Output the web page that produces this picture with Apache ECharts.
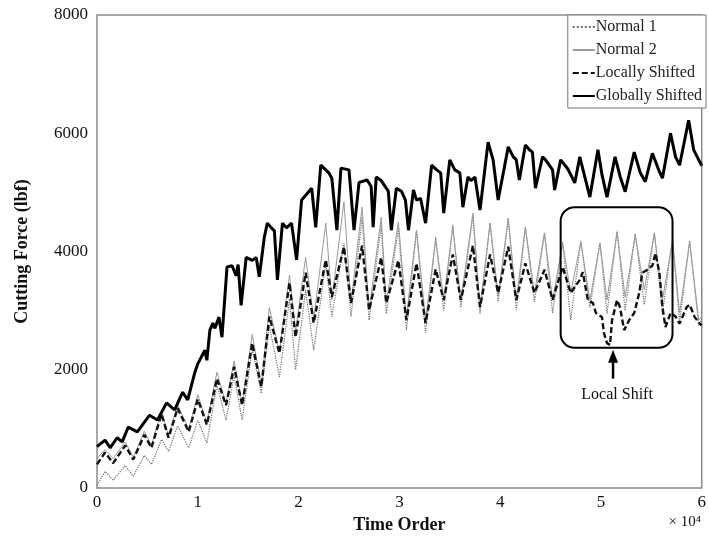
<!DOCTYPE html>
<html>
<head>
<meta charset="utf-8">
<script src="https://cdn.jsdelivr.net/npm/echarts@6/dist/echarts.min.js"></script>
<style>
  html, body { margin: 0; padding: 0; background: #fff; }
  #chart { width: 709px; height: 542px; }
</style>
</head>
<body>
<div id="chart"></div>
<script>
// time order (x 10^4) of the turning points shared by the two normal runs
var tLow = [0, 0.08, 0.16, 0.28, 0.36, 0.47, 0.54, 0.64, 0.71, 0.80,
  0.91, 1.00, 1.09, 1.19, 1.28, 1.36, 1.44, 1.54, 1.63, 1.71,
  1.81, 1.91, 1.97, 2.07, 2.15, 2.27, 2.33, 2.45, 2.52, 2.63,
  2.70, 2.82, 2.87, 2.99, 3.07, 3.17, 3.26, 3.36, 3.44, 3.53,
  3.61, 3.73, 3.80, 3.90, 3.98, 4.08, 4.16, 4.25, 4.34, 4.44,
  4.52, 4.62, 4.70, 4.80, 4.89, 4.99, 5.06, 5.16, 5.24, 5.34,
  5.43, 5.53, 5.61, 5.71, 5.78, 5.88, 5.97, 6.00];

var normal1 = [50, 280, 130, 380, 200, 550, 400, 820, 620, 1050,
  680, 1150, 760, 1750, 1150, 1900, 1150, 2350, 1600, 2750,
  1880, 3200, 2000, 3350, 2330, 3800, 2900, 4140, 2900, 4580,
  2840, 4450, 2950, 4400, 2670, 4360, 2620, 4240, 3000, 4450,
  3050, 4620, 2950, 4480, 3150, 4560, 3010, 4410, 3150, 4310,
  2960, 4160, 2840, 4180, 3050, 4150, 2950, 4350, 3000, 4300,
  3100, 4320, 2950, 4200, 2800, 4180, 2750, 2850];

var normal2 = [500, 650, 500, 780, 520, 960, 720, 1300, 880, 1400,
  1000, 1580, 1100, 1960, 1420, 2150, 1420, 2600, 1730, 3050,
  2300, 3600, 2650, 3900, 2860, 4480, 3180, 4840, 3130, 4750,
  3010, 4580, 3130, 4500, 2900, 4360, 2850, 4190, 3200, 4410,
  3180, 4650, 3060, 4480, 3250, 4560, 3180, 4410, 3300, 4310,
  3180, 4140, 3300, 4160, 3180, 4140, 3180, 4330, 3230, 4280,
  3350, 4310, 3180, 4190, 2960, 4160, 2840, 2900];

var lsTime = [0, 0.08, 0.16, 0.28, 0.36, 0.47, 0.54, 0.64, 0.71, 0.80,
  0.91, 1.00, 1.09, 1.19, 1.28, 1.36, 1.44, 1.54, 1.63, 1.71,
  1.81, 1.91, 1.97, 2.07, 2.15, 2.27, 2.33, 2.45, 2.52, 2.63,
  2.70, 2.82, 2.87, 2.99, 3.07, 3.17, 3.26, 3.36, 3.44, 3.53,
  3.61, 3.73, 3.80, 3.90, 3.98, 4.08, 4.16, 4.25, 4.34, 4.44,
  4.52, 4.62, 4.70, 4.74, 4.79, 4.82, 4.87, 4.92, 4.95, 5.01,
  5.03, 5.06, 5.09, 5.11, 5.16, 5.19, 5.23, 5.28, 5.33, 5.38,
  5.41, 5.46, 5.51, 5.54, 5.58, 5.61, 5.64, 5.69, 5.74, 5.78,
  5.85, 5.88, 5.93, 5.98, 6.00];

var lsForce = [400, 600, 420, 720, 480, 900, 680, 1250, 850, 1350,
  950, 1500, 1070, 1850, 1400, 2050, 1400, 2450, 1710, 2900,
  2280, 3470, 2550, 3640, 2790, 3860, 3230, 4080, 3130, 4100,
  3010, 3900, 3130, 3850, 2840, 3800, 2790, 3700, 3180, 3950,
  3180, 4100, 3060, 3950, 3300, 4080, 3180, 3800, 3300, 3690,
  3180, 3740, 3300, 3400, 3520, 3650, 3180, 3130, 2960, 2890,
  2620, 2450, 2420, 2840, 3180, 3050, 2670, 2840, 2960, 3300,
  3640, 3690, 3760, 3970, 3640, 3060, 2720, 2960, 2900, 2780,
  3060, 3100, 2890, 2780, 2750];

var gsTime = [0.00, 0.08, 0.13, 0.20, 0.25, 0.31, 0.40, 0.52, 0.60, 0.69,
  0.77, 0.85, 0.90, 0.97, 1.00, 1.07, 1.09, 1.12, 1.15, 1.17,
  1.21, 1.24, 1.29, 1.34, 1.38, 1.40, 1.43, 1.48, 1.54, 1.58,
  1.61, 1.66, 1.69, 1.73, 1.76, 1.79, 1.84, 1.88, 1.93, 1.98,
  2.03, 2.13, 2.17, 2.22, 2.27, 2.30, 2.33, 2.38, 2.42, 2.50,
  2.55, 2.60, 2.68, 2.72, 2.74, 2.77, 2.82, 2.89, 2.92, 2.97,
  3.02, 3.06, 3.09, 3.14, 3.17, 3.21, 3.26, 3.32, 3.37, 3.41,
  3.44, 3.50, 3.55, 3.60, 3.63, 3.68, 3.71, 3.75, 3.80, 3.88,
  3.93, 3.98, 4.08, 4.13, 4.16, 4.19, 4.25, 4.29, 4.32, 4.35,
  4.42, 4.45, 4.52, 4.54, 4.60, 4.67, 4.70, 4.74, 4.79, 4.89,
  4.97, 5.01, 5.06, 5.14, 5.19, 5.24, 5.33, 5.39, 5.44, 5.51,
  5.58, 5.61, 5.69, 5.74, 5.78, 5.87, 5.92, 5.97, 6.00];

var gsForce = [700, 810, 680, 850, 780, 1030, 950, 1230, 1150, 1440,
  1320, 1620, 1490, 1950, 2100, 2330, 2160, 2670, 2790, 2700,
  2890, 2550, 3740, 3760, 3590, 3780, 3090, 3900, 3850, 3900,
  3570, 4240, 4480, 4400, 4350, 3520, 4480, 4400, 4480, 3860,
  4870, 5070, 4410, 5460, 5380, 5330, 5240, 4360, 5410, 5380,
  4360, 5170, 5210, 5100, 4410, 5260, 5200, 5020, 4360, 5070,
  5020, 4870, 4360, 5040, 4870, 4900, 4480, 5460, 5380, 5330,
  4650, 5550, 5380, 5330, 4750, 5260, 5200, 5260, 4700, 5850,
  5550, 4870, 5770, 5600, 5550, 5210, 5800, 5720, 5680, 5070,
  5600, 5550, 5380, 5040, 5550, 5400, 5300, 5160, 5600, 4920,
  5720, 5300, 4920, 5600, 5270, 5010, 5680, 5330, 5180, 5660,
  5350, 5240, 6000, 5600, 5460, 6220, 5720, 5550, 5450];

// annotation: box around the local shift [x0, x1, y0, y1], arrow and its label
var shiftBox = [4.60, 5.71, 2370, 4750];
var arrowAt = [5.12, 1850, 2370];
var shiftLabel = [5.16, 1570, 'Local Shift'];

var serif = 'Liberation Serif';

function pairs(xs, ys) {
  return xs.map(function (x, i) { return [x, ys[i]]; });
}

var chart = echarts.init(document.getElementById('chart'));

var option = {
  animation: false,
  backgroundColor: '#fff',
  textStyle: { fontFamily: serif },
  grid: {
    left: 97, right: 3, top: 15, bottom: 54,
    show: true, borderColor: '#8a8a8a', borderWidth: 1.5
  },
  legend: {
    orient: 'vertical',
    right: 3, top: 15,
    padding: [4, 4, 4, 4],
    itemGap: 7,
    itemWidth: 22, itemHeight: 14,
    borderColor: '#777', borderWidth: 1,
    backgroundColor: '#fff',
    itemStyle: { opacity: 0 },
    textStyle: { fontFamily: serif, fontSize: 16, color: '#222', padding: [0, 0, 0, -4] },
    data: ['Normal 1', 'Normal 2', 'Locally Shifted', 'Globally Shifted']
  },
  xAxis: {
    type: 'value', min: 0, max: 6, interval: 1,
    name: 'Time Order', nameLocation: 'middle', nameGap: 21,
    nameTextStyle: { fontFamily: serif, fontSize: 18, fontWeight: 'bold', color: '#111' },
    axisLine: { show: false },
    axisTick: { show: false },
    splitLine: { show: false },
    axisLabel: { fontFamily: serif, fontSize: 17, color: '#111', margin: 6 }
  },
  yAxis: {
    type: 'value', min: 0, max: 8000, interval: 2000,
    name: 'Cutting Force (lbf)', nameLocation: 'middle', nameGap: 66,
    nameTextStyle: { fontFamily: serif, fontSize: 18, fontWeight: 'bold', color: '#111' },
    axisLine: { show: false },
    axisTick: { show: false },
    splitLine: { show: false },
    axisLabel: {
      fontFamily: serif, fontSize: 17, color: '#111', margin: 9,
      formatter: function (v) { return String(v); }
    }
  },
  series: [
    {
      name: 'Normal 1', type: 'line', symbol: 'none', z: 2,
      data: pairs(tLow, normal1),
      lineStyle: { color: '#6e6e6e', width: 1.2, type: 'dotted' },
      itemStyle: { color: '#6e6e6e' }
    },
    {
      name: 'Normal 2', type: 'line', symbol: 'none', z: 3,
      data: pairs(tLow, normal2),
      lineStyle: { color: '#9a9a9a', width: 1 },
      itemStyle: { color: '#9a9a9a' }
    },
    {
      name: 'Locally Shifted', type: 'line', symbol: 'none', z: 4,
      data: pairs(lsTime, lsForce),
      lineStyle: { color: '#111', width: 2.4, type: [6, 3] },
      itemStyle: { color: '#111' }
    },
    {
      name: 'Globally Shifted', type: 'line', symbol: 'none', z: 5,
      data: pairs(gsTime, gsForce),
      lineStyle: { color: '#000', width: 3 },
      itemStyle: { color: '#000' }
    }
  ]
};

chart.setOption(option);

// annotation drawn from data coordinates
var p0 = chart.convertToPixel({ gridIndex: 0 }, [shiftBox[0], shiftBox[3]]);
var p1 = chart.convertToPixel({ gridIndex: 0 }, [shiftBox[1], shiftBox[2]]);
var aTail = chart.convertToPixel({ gridIndex: 0 }, [arrowAt[0], arrowAt[1]]);
var aTip = chart.convertToPixel({ gridIndex: 0 }, [arrowAt[0], arrowAt[2]]);
var lab = chart.convertToPixel({ gridIndex: 0 }, [shiftLabel[0], shiftLabel[1]]);
var tipY = aTip[1] + 2;

chart.setOption({
  graphic: [
    {
      type: 'rect', z: 10,
      shape: { x: p0[0], y: p0[1], width: p1[0] - p0[0], height: p1[1] - p0[1], r: 14 },
      style: { fill: 'none', stroke: '#000', lineWidth: 2 }
    },
    {
      type: 'line', z: 10,
      shape: { x1: aTail[0], y1: aTail[1], x2: aTip[0], y2: tipY + 8 },
      style: { stroke: '#000', lineWidth: 2.5 }
    },
    {
      type: 'polygon', z: 10,
      shape: { points: [[aTip[0], tipY], [aTip[0] - 5, tipY + 13], [aTip[0] + 5, tipY + 13]] },
      style: { fill: '#000' }
    },
    {
      type: 'text', z: 10,
      x: lab[0], y: lab[1],
      style: {
        text: shiftLabel[2], fontFamily: serif, fontSize: 16, fill: '#111',
        align: 'center', verticalAlign: 'middle'
      }
    },
    {
      type: 'text', z: 10,
      right: 8, top: 515,
      style: { text: '× 10⁴', fontFamily: serif, fontSize: 15, fill: '#111' }
    }
  ]
});
</script>
</body>
</html>
